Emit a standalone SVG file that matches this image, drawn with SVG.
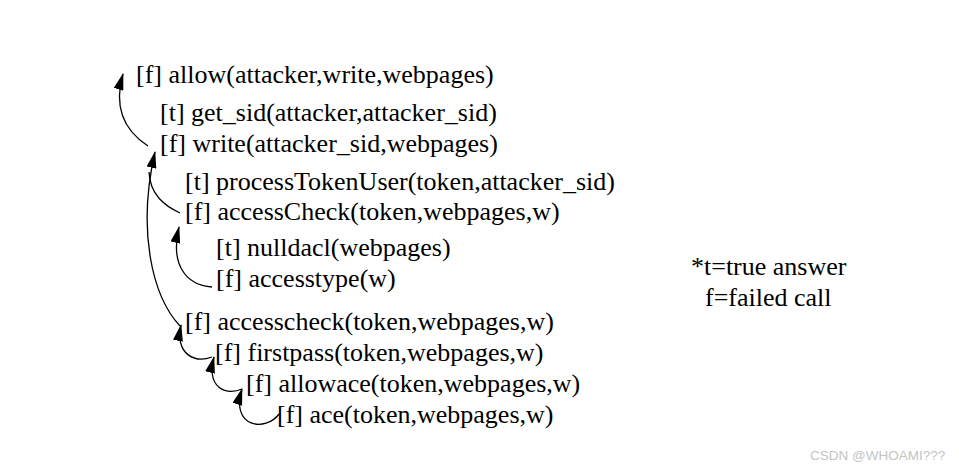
<svg xmlns="http://www.w3.org/2000/svg" width="959" height="471" viewBox="0 0 959 471">
<style>
text{font-family:"Liberation Serif","Times New Roman",serif;font-size:26px;fill:#000}
.wm{font-family:"Liberation Sans",Arial,sans-serif;font-size:13.5px;fill:#c4c4c4}
.c{fill:none;stroke:#000;stroke-width:1.3}
</style>
<defs>
<marker id="ah" viewBox="0 0 17 10" refX="16" refY="5" markerWidth="17" markerHeight="10" markerUnits="userSpaceOnUse" orient="auto">
<path d="M0,0 L17,5 L0,10 z" fill="#000"/>
</marker>
</defs>
<rect width="959" height="471" fill="#fff"/>
<g id="connectors">
<path class="c" d="M148,146 C128,133 112,112 123,74" marker-end="url(#ah)"/>
<path class="c" d="M180,326 C152,296 137,230 155,152" marker-end="url(#ah)"/>
<path class="c" d="M180,213 C165,206 150,195 149,172"/>
<path class="c" d="M212,287 C186,285 170,265 179,227" marker-end="url(#ah)"/>
<path class="c" d="M212,357 C196,363 175,356 181,325" marker-end="url(#ah)"/>
<path class="c" d="M242,389 C226,396 206,388 214,357" marker-end="url(#ah)"/>
<path class="c" d="M279,414 C266,432 230,428 242,389" marker-end="url(#ah)"/>
</g>
<g id="n1"><text x="136" y="83">[f] allow(attacker,write,webpages)</text></g>
<g id="n2"><text x="160" y="121">[t] get_sid(attacker,attacker_sid)</text></g>
<g id="n3"><text x="160" y="152">[f] write(attacker_sid,webpages)</text></g>
<g id="n4"><text x="185" y="190">[t] processTokenUser(token,attacker_sid)</text></g>
<g id="n5"><text x="185" y="220">[f] accessCheck(token,webpages,w)</text></g>
<g id="n6"><text x="216" y="256">[t] nulldacl(webpages)</text></g>
<g id="n7"><text x="216" y="287">[f] accesstype(w)</text></g>
<g id="n8"><text x="185" y="330">[f] accesscheck(token,webpages,w)</text></g>
<g id="n9"><text x="215" y="361">[f] firstpass(token,webpages,w)</text></g>
<g id="n10"><text x="246" y="392">[f] allowace(token,webpages,w)</text></g>
<g id="n11"><text x="277" y="423">[f] ace(token,webpages,w)</text></g>
<g id="legend">
<text x="691" y="275">*t=true answer</text>
<text x="705" y="306">f=failed call</text>
</g>
<text class="wm" x="810" y="460">CSDN @WHOAMI???</text>
</svg>
